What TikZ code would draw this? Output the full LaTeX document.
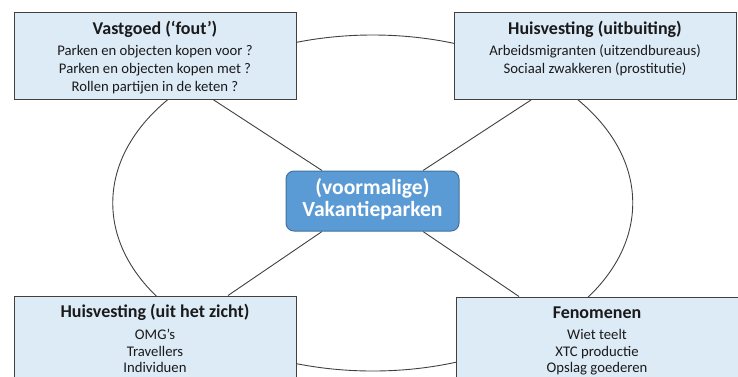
\documentclass[tikz,border=0pt]{standalone}
\usepackage{fontspec}
\setmainfont{Carlito}
\usetikzlibrary{backgrounds}
\definecolor{boxfill}{HTML}{DDEBF7}
\definecolor{boxline}{HTML}{404040}
\definecolor{cfill}{HTML}{5B9BD5}
\definecolor{cline}{HTML}{41719C}
\definecolor{txt}{HTML}{1A1A1A}
\tikzset{
  infobox/.style={draw=boxline, fill=boxfill, line width=1pt, minimum width=282pt, minimum height=87pt, inner sep=0pt},
  centerbox/.style={draw=cline, fill=cfill, line width=1pt, rounded corners=8pt, minimum width=173pt, minimum height=60pt, inner sep=0pt},
  ttl/.style={anchor=base, font=\fontsize{18}{20}\selectfont\bfseries, text=txt, inner sep=0pt},
  bod/.style={anchor=base, font=\fontsize{14.7}{16}\selectfont, text=txt, inner sep=0pt},
  ctext/.style={anchor=base, font=\fontsize{21.6}{22}\selectfont\bfseries, text=white, inner sep=0pt},
  conn/.style={draw=boxline, line width=0.9pt}
}
\begin{document}
\begin{tikzpicture}[x=1pt,y=-1pt]
\useasboundingbox (0,0) rectangle (738,376);
\clip (0,0) rectangle (738,376);
% boxes
\node[infobox] (tl) at (155,55.5) {};
\node[infobox] (tr) at (595,56) {};
\node[infobox] (bl) at (155,339.5) {};
\node[infobox] (br) at (597,340.5) {};
\node[centerbox] (c) at (372.5,201) {};
% texts
\node[ttl] (tlt) at (155,34) {Vastgoed (‘fout’)};
\node[bod] (tl1) at (155,55.5) {Parken en objecten kopen voor ?};
\node[bod] (tl2) at (155,73.5) {Parken en objecten kopen met ?};
\node[bod] (tl3) at (155,91.5) {Rollen partijen in de keten ?};
\node[ttl] (trt) at (595,34) {Huisvesting (uitbuiting)};
\node[bod] (tr1) at (595,55.5) {Arbeidsmigranten (uitzendbureaus)};
\node[bod] (tr2) at (595,73.5) {Sociaal zwakkeren (prostitutie)};
\node[ttl] (blt) at (155,317.5) {Huisvesting (uit het zicht)};
\node[bod] (bl1) at (155,339) {OMG’s};
\node[bod] (bl2) at (155,356.5) {Travellers};
\node[bod] (bl3) at (155,372.3) {Individuen};
\node[ttl] (brt) at (597,318) {Fenomenen};
\node[bod] (br1) at (597,339) {Wiet teelt};
\node[bod] (br2) at (597,356.5) {XTC productie};
\node[bod] (br3) at (597,372.3) {Opslag goederen};
\node[ctext] (c1) at (372.5,194) {(voormalige)};
\node[ctext] (c2) at (372.5,216) {Vakantieparken};
% connectors and ellipse behind
\begin{pgfonlayer}{background}
\draw[conn] (372.75,203) ellipse [x radius=260, y radius=168];
\draw[conn] (tl.south -| 213,0) -- (c.north -| 322,0);
\draw[conn] (tr.south -| 531,0) -- (c.north -| 423,0);
\draw[conn] (bl.north -| 228,0) -- (c.south -| 322,0);
\draw[conn] (br.north -| 519,0) -- (c.south -| 423,0);
\end{pgfonlayer}
\end{tikzpicture}
\end{document}
